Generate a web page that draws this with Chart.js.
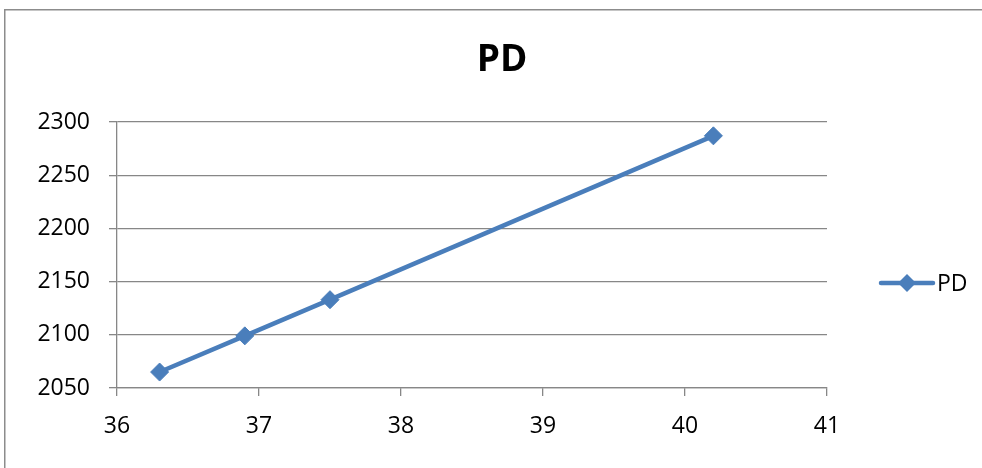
<!DOCTYPE html>
<html>
<head>
<meta charset="utf-8">
<script src="https://cdn.jsdelivr.net/npm/chart.js@4.4.1/dist/chart.umd.min.js"></script>
<style>
  html, body { margin: 0; padding: 0; background: #fff; overflow: hidden; }
  #wrap { position: relative; width: 982px; height: 468px; }
</style>
</head>
<body>
<div id="wrap"><canvas id="pdChart" width="982" height="468"></canvas></div>
<script>
// data
const seriesName = 'PD';
const pdX = [36.3, 36.9, 37.5, 40.2];
const pdY = [2065, 2099, 2133, 2287];
const xTicks = [36, 37, 38, 39, 40, 41];
const yTicks = [2050, 2100, 2150, 2200, 2250, 2300];

const blue = '#4a7ebb';
const gridGrey = '#878787';
const fontFamily = '"Open Sans", "Liberation Sans", sans-serif';

// frame, title and legend drawn the Excel way
const excelDecor = {
    id: 'excelDecor',
    beforeDraw(chart) {
        const ctx = chart.ctx;
        ctx.save();
        ctx.fillStyle = '#fff';
        ctx.fillRect(0, 0, chart.width, chart.height);
        ctx.fillStyle = '#8c8c8c';
        ctx.fillRect(4, 9, 1.5, chart.height - 9);
        ctx.fillRect(4, 9, chart.width - 4, 1.5);
        ctx.restore();
    },
    afterDraw(chart) {
        const ctx = chart.ctx;
        ctx.save();
        // title
        ctx.fillStyle = '#000';
        ctx.font = 'bold 37px ' + fontFamily;
        ctx.textAlign = 'center';
        ctx.textBaseline = 'middle';
        ctx.fillText(seriesName, 502, 60);
        // legend
        const ly = 283;
        ctx.strokeStyle = blue;
        ctx.lineWidth = 4.5;
        ctx.lineCap = 'round';
        ctx.beginPath();
        ctx.moveTo(881, ly);
        ctx.lineTo(933, ly);
        ctx.stroke();
        ctx.fillStyle = blue;
        ctx.beginPath();
        ctx.moveTo(907 - 9, ly);
        ctx.lineTo(907, ly - 9);
        ctx.lineTo(907 + 9, ly);
        ctx.lineTo(907, ly + 9);
        ctx.closePath();
        ctx.fill();
        ctx.fillStyle = '#000';
        ctx.font = '23px ' + fontFamily;
        ctx.textAlign = 'left';
        ctx.fillText(seriesName, 937, ly + 1);
        ctx.restore();
    }
};

new Chart(document.getElementById('pdChart'), {
    type: 'scatter',
    data: {
        datasets: [{
            label: seriesName,
            data: pdX.map((x, i) => ({ x: x, y: pdY[i] })),
            showLine: true,
            borderColor: blue,
            backgroundColor: blue,
            borderWidth: 4.5,
            pointStyle: 'rectRot',
            pointRadius: 9,
            pointBorderWidth: 1,
            pointBorderColor: blue,
            pointBackgroundColor: blue
        }]
    },
    options: {
        responsive: false,
        devicePixelRatio: 1,
        animation: false,
        layout: { padding: { left: 0, top: 122, right: 155, bottom: 0 } },
        plugins: {
            legend: { display: false },
            title: { display: false },
            tooltip: { enabled: false }
        },
        scales: {
            x: {
                type: 'linear',
                min: xTicks[0],
                max: xTicks[xTicks.length - 1],
                afterBuildTicks: s => { s.ticks = xTicks.map(v => ({ value: v })); },
                afterFit: s => { s.height = 468 - 388; },
                ticks: { color: '#000', font: { family: fontFamily, size: 23 }, padding: 17, callback: v => String(v) },
                grid: { drawOnChartArea: false, drawTicks: true, tickLength: 8, color: gridGrey, lineWidth: 1.3 },
                border: { color: gridGrey, width: 1.3 }
            },
            y: {
                type: 'linear',
                min: yTicks[0],
                max: yTicks[yTicks.length - 1],
                afterBuildTicks: s => { s.ticks = yTicks.map(v => ({ value: v })); },
                afterFit: s => { s.width = 117; },
                ticks: { color: '#000', font: { family: fontFamily, size: 23 }, padding: 19, callback: v => String(v) },
                grid: { drawTicks: true, tickLength: 8, color: gridGrey, lineWidth: 1.3 },
                border: { color: gridGrey, width: 1.3 }
            }
        }
    },
    plugins: [excelDecor]
});
</script>
</body>
</html>
